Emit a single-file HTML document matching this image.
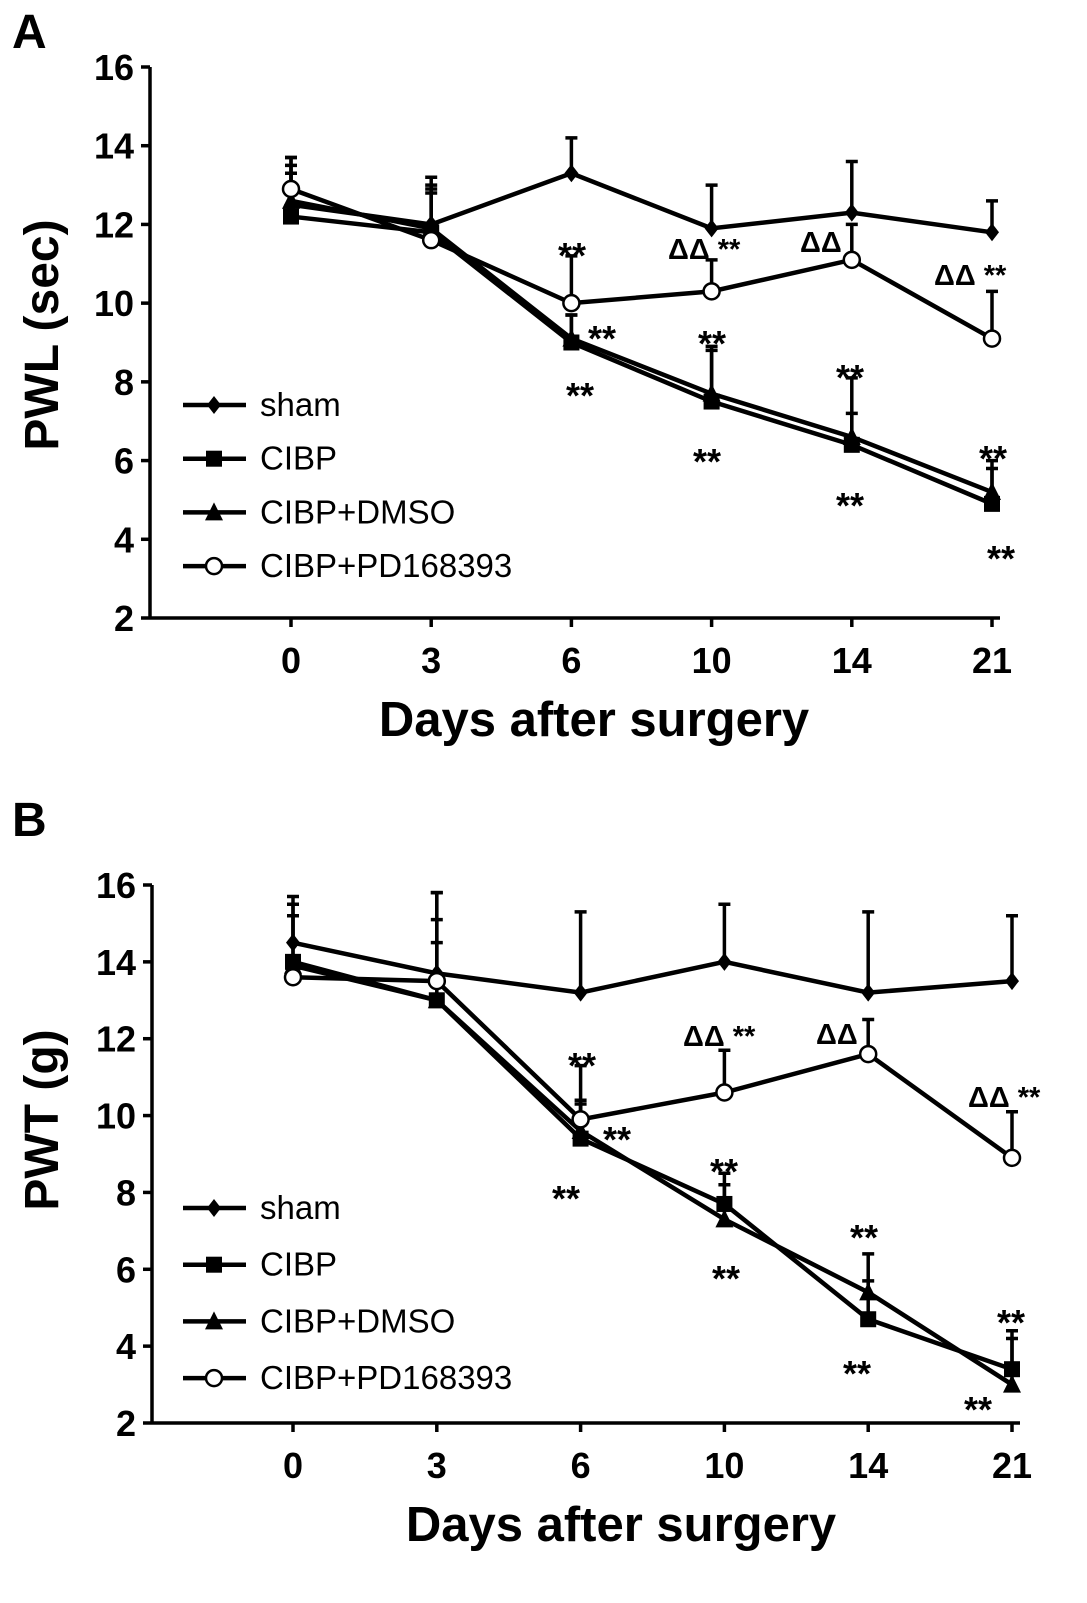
<!DOCTYPE html>
<html><head><meta charset="utf-8"><style>
html,body{margin:0;padding:0;background:#fff;}
svg{display:block;font-family:"Liberation Sans",Arial,sans-serif;}
</style></head><body>
<svg id="chart" width="1087" height="1603" viewBox="0 0 1087 1603" xmlns="http://www.w3.org/2000/svg"></svg>
<script>
const categories = ["0","3","6","10","14","21"];
const yTicks = [2,4,6,8,10,12,14,16];
const seriesNames = ["sham","CIBP","CIBP+DMSO","CIBP+PD168393"];
const markers = ["diamond","square","triangle","circle"];
const pwlSham = [12.5,12.0,13.3,11.9,12.3,11.8];
const pwlShamErr = [1.2,1.2,0.9,1.1,1.3,0.8];
const pwlCibp = [12.2,11.8,9.0,7.5,6.4,4.9];
const pwlCibpErr = [1.1,1.2,0.7,1.4,0.8,0.9];
const pwlDmso = [12.6,11.9,9.1,7.7,6.6,5.2];
const pwlDmsoErr = [0.9,1.0,0.6,1.1,1.5,0.8];
const pwlPd = [12.9,11.6,10.0,10.3,11.1,9.1];
const pwlPdErr = [0.8,1.2,1.2,0.8,0.9,1.2];
const pwtSham = [14.5,13.7,13.2,14.0,13.2,13.5];
const pwtShamErr = [1.0,2.1,2.1,1.5,2.1,1.7];
const pwtCibp = [14.0,13.0,9.4,7.7,4.7,3.4];
const pwtCibpErr = [1.7,1.5,1.0,0.8,1.0,1.0];
const pwtDmso = [13.9,13.0,9.6,7.3,5.4,3.0];
const pwtDmsoErr = [1.3,2.1,0.7,0.9,1.0,1.2];
const pwtPd = [13.6,13.5,9.9,10.6,11.6,8.9];
const pwtPdErr = [0.4,2.3,1.4,1.1,0.9,1.2];

const svg = document.getElementById('chart');
const NS = 'http://www.w3.org/2000/svg';
function mk(tag, attrs, parent){const e=document.createElementNS(NS,tag);for(const k in attrs)e.setAttribute(k,attrs[k]);(parent||svg).appendChild(e);return e;}
function txt(s, attrs, parent){const e=mk('text',attrs,parent);e.textContent=s;return e;}

function marker(type,x,y,g){
  let e;
  if(type==='diamond') e=mk('polygon',{points:`${x},${y-9} ${x+7},${y} ${x},${y+9} ${x-7},${y}`,fill:'#000'},g);
  else if(type==='square') e=mk('rect',{x:x-8,y:y-8,width:16,height:16,fill:'#000'},g);
  else if(type==='triangle') e=mk('polygon',{points:`${x},${y-10} ${x+9},${y+8} ${x-9},${y+8}`,fill:'#000'},g);
  else e=mk('circle',{cx:x,cy:y,r:8,fill:'#fff',stroke:'#000','stroke-width':2.5},g);
  return e;
}

function panel(cfg){
  const g=mk('g',{});
  
  
  const yS=v=>cfg.y0-(v-2)*(cfg.y0-cfg.y16)/14;
  const xS=i=>cfg.x0+i*cfg.dx;
  const pl=txt(cfg.letter,{x:12,y:cfg.letterY,'font-size':48,'font-weight':'bold'},g);
  
  
  const ya=mk('line',{x1:cfg.ax,y1:cfg.y16,x2:cfg.ax,y2:cfg.y0,stroke:'#000','stroke-width':3.5},g);
  
  
  const xa=mk('line',{x1:cfg.ax,y1:cfg.y0,x2:xS(5)+8,y2:cfg.y0,stroke:'#000','stroke-width':3.5},g);
  
  
  yTicks.forEach(v=>{
    mk('line',{x1:cfg.ax-9,y1:yS(v),x2:cfg.ax,y2:yS(v),stroke:'#000','stroke-width':3.5},g);
    const t=txt(String(v),{x:cfg.ax-16,y:yS(v)+13,'font-size':36,'font-weight':'bold','text-anchor':'end'},g);
    
    
  });
  categories.forEach((c,i)=>{
    mk('line',{x1:xS(i),y1:cfg.y0,x2:xS(i),y2:cfg.y0+9,stroke:'#000','stroke-width':3.5},g);
    const t=txt(c,{x:xS(i),y:cfg.y0+55,'font-size':36,'font-weight':'bold','text-anchor':'middle'},g);
    
    
  });
  const xt=txt('Days after surgery',{x:cfg.xTitleX,y:cfg.y0+118,'font-size':49,'font-weight':'bold','text-anchor':'middle'},g);
  
  
  const yt=txt(cfg.ytitle,{x:0,y:0,'font-size':48,'font-weight':'bold','text-anchor':'middle',transform:`translate(58,${cfg.yTitleY}) rotate(-90)`},g);
  
  
  cfg.series.forEach((s,si)=>{
    const sg=mk('g',{},g);
    
    
    s.v.forEach((v,i)=>{
      const yt2=yS(v+s.e[i]);
      const eb=mk('path',{d:`M${xS(i)},${yS(v)} V${yt2} M${xS(i)-6},${yt2} H${xS(i)+6}`,stroke:'#000','stroke-width':3.5,fill:'none'},sg);
      
      
    });
    const ln=mk('polyline',{points:s.v.map((v,i)=>`${xS(i)},${yS(v)}`).join(' '),fill:'none',stroke:'#000','stroke-width':4.5},sg);
    
    
    s.v.forEach((v,i)=>{
      const m=marker(markers[si],xS(i),yS(v),sg);
      
      
    });
  });
  seriesNames.forEach((n,i)=>{
    const ly=cfg.legY+i*cfg.legDy;
    const lg=mk('g',{},g);
    
    
    mk('line',{x1:183,y1:ly,x2:246,y2:ly,stroke:'#000','stroke-width':4.5},lg);
    marker(markers[i],214,ly,lg);
    txt(n,{x:260,y:ly+11,'font-size':33},lg);
  });
  cfg.ann.forEach(a=>{
    const d=a[0].includes('Δ');
    const t=txt(a[0],{x:a[1],y:a[2]+(d?0:6),'font-size':d?29:36,'font-weight':'bold'},g);
    
    
  });
}

panel({name:'panel-a',letter:'A',letterY:48,ax:150,y0:618,y16:67,x0:291,dx:140.2,xTitleX:594,yTitleY:335,ytitle:'PWL (sec)',
  legY:405,legDy:53.7,
  series:[{v:pwlSham,e:pwlShamErr},{v:pwlCibp,e:pwlCibpErr},{v:pwlDmso,e:pwlDmsoErr},{v:pwlPd,e:pwlPdErr}],
  ann:[['**',558,262],['ΔΔ **',668,259],['ΔΔ',800,252],['ΔΔ **',934,285],['**',588,345],['**',566,402],['**',698,350],['**',693,468],['**',836,384],['**',836,512],['**',979,465],['**',987,565]]});
panel({name:'panel-b',letter:'B',letterY:836,ax:152,y0:1423,y16:885,x0:293,dx:143.8,xTitleX:621,yTitleY:1120,ytitle:'PWT (g)',
  legY:1208,legDy:56.7,
  series:[{v:pwtSham,e:pwtShamErr},{v:pwtCibp,e:pwtCibpErr},{v:pwtDmso,e:pwtDmsoErr},{v:pwtPd,e:pwtPdErr}],
  ann:[['**',568,1072],['ΔΔ **',683,1046],['ΔΔ',816,1044],['ΔΔ **',968,1107],['**',603,1146],['**',552,1205],['**',710,1178],['**',712,1285],['**',850,1244],['**',843,1380],['**',997,1329],['**',964,1416]]});
</script>
</body></html>
